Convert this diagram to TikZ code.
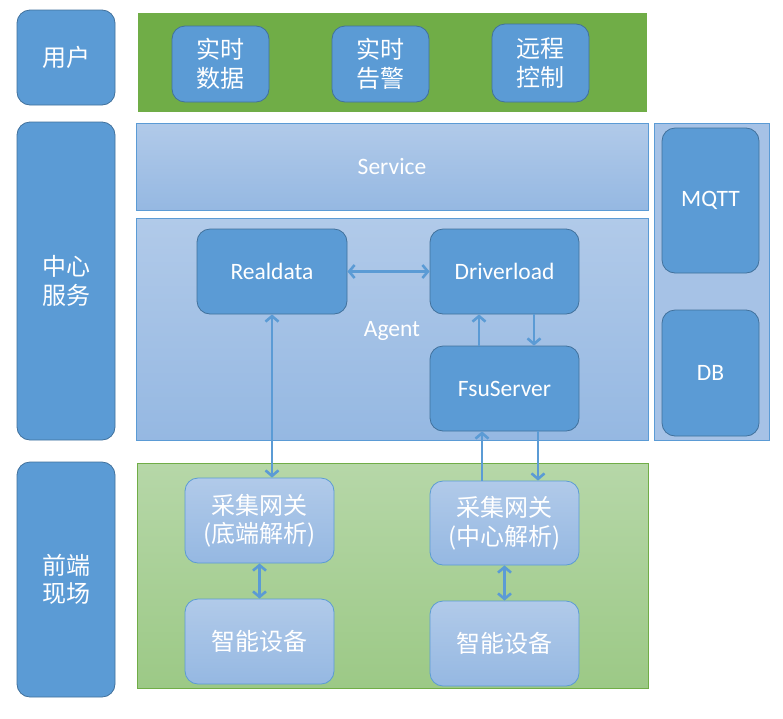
\documentclass[tikz,border=0pt]{standalone}
\usepackage{fontspec}
\setmainfont{Carlito}
\newfontfamily\cjk{Noto Sans CJK SC}
\usetikzlibrary{arrows.meta}
\definecolor{obl}{HTML}{5B9BD5}
\definecolor{obd}{HTML}{41719C}
\definecolor{ogr}{HTML}{70AD47}
\definecolor{pnlt}{HTML}{B1CAE9}
\definecolor{pnlb}{HTML}{95B8E2}
\definecolor{grt}{HTML}{B6D7A8}
\definecolor{grb}{HTML}{9CC986}
\definecolor{sidep}{HTML}{A6C2E6}
\tikzset{
  solidbox/.style={draw=obd, line width=0.8pt, fill=obl, rounded corners=13pt, text=white, align=center, inner sep=0pt},
  panel/.style={draw=obl, line width=0.8pt, top color=pnlt, bottom color=pnlb, text=white, align=center, inner sep=0pt},
  softbox/.style={draw=obl, line width=0.8pt, top color=pnlt, bottom color=pnlb, rounded corners=13pt, text=white, align=center, inner sep=0pt},
  cn/.style={font=\cjk\fontsize{24}{28.5}\selectfont},
  en/.style={font=\fontsize{23.5}{28}\selectfont},
  conn/.style={draw=obl, line width=2.6pt, arrows={Straight Barb[length=5.5pt,width=13pt]-Straight Barb[length=5.5pt,width=13pt]}},
  conn1/.style={draw=obl, line width=2.6pt, arrows={-Straight Barb[length=5.5pt,width=13pt]}},
}
\begin{document}
\begin{tikzpicture}[x=1pt,y=-1pt]
\useasboundingbox[fill=white] (0,0) rectangle (783,718);
% left labels
\node[solidbox,cn,minimum width=98pt,minimum height=95pt] (user) at (66,57.5) {用户};
\node[solidbox,cn,minimum width=98pt,minimum height=318pt] (center) at (66,281) {中心\\服务};
\node[solidbox,cn,minimum width=98pt,minimum height=235pt] (front) at (66,579.5) {前端\\现场};
% top band
\node[fill=ogr,draw=ogr,minimum width=508pt,minimum height=98pt,inner sep=0pt] (userband) at (392,62) {};
\node[solidbox,cn,minimum width=97pt,minimum height=76pt] (rtdata) at (220.5,64) {实时\\数据};
\node[solidbox,cn,minimum width=97pt,minimum height=76pt] (rtalarm) at (380.5,64) {实时\\告警};
\node[solidbox,cn,minimum width=97pt,minimum height=78pt] (remote) at (540.5,63) {远程\\控制};
% service / agent
\node[panel,en,minimum width=512pt,minimum height=87pt] (service) at (392,166.5) {Service};
\node[panel,minimum width=512pt,minimum height=222pt] (agent) at (392,329) {};
\node[en,text=white,inner sep=0pt] (agentlbl) at (392,331) {Agent};
% right panel
\node[draw=obl,line width=0.8pt,fill=sidep,minimum width=115pt,minimum height=317pt,inner sep=0pt] (side) at (711.5,281.5) {};
\node[solidbox,en,minimum width=97pt,minimum height=145pt] (mqtt) at (710.5,200.5) {MQTT};
\node[solidbox,en,minimum width=97pt,minimum height=126pt] (db) at (710.5,373) {DB};
% agent modules
\node[solidbox,en,minimum width=150pt,minimum height=85pt] (realdata) at (272,271.5) {Realdata};
\node[solidbox,en,minimum width=149pt,minimum height=85pt] (driver) at (504.5,271.5) {Driverload};
\node[solidbox,en,minimum width=149pt,minimum height=85pt] (fsu) at (504.5,388.5) {FsuServer};
% bottom band
\node[draw=ogr,line width=0.8pt,top color=grt,bottom color=grb,minimum width=511pt,minimum height=225pt,inner sep=0pt] (field) at (392.5,575.5) {};
\node[softbox,cn,minimum width=149pt,minimum height=85pt] (gw1) at (259.5,520.5) {采集网关\\(底端解析)};
\node[softbox,cn,minimum width=149pt,minimum height=84pt] (gw2) at (504.5,523) {采集网关\\(中心解析)};
\node[softbox,cn,minimum width=149pt,minimum height=85pt] (dev1) at (259.5,641.5) {智能设备};
\node[softbox,cn,minimum width=149pt,minimum height=85pt] (dev2) at (504.5,643.5) {智能设备};
% connectors
\draw[conn] (realdata.east) -- (driver.west);
\draw[conn1] ([xshift=-25.5pt]fsu.north) -- ([xshift=-25.5pt]driver.south);
\draw[conn1] ([xshift=29.5pt]driver.south) -- ([xshift=29.5pt]fsu.north);
\draw[conn] (realdata.south) -- (realdata.south |- gw1.north);
\draw[conn1] ([xshift=-22.5pt]gw2.north) -- ([xshift=-22.5pt]fsu.south);
\draw[conn1] ([xshift=33.5pt]fsu.south) -- ([xshift=33.5pt]gw2.north);
\draw[conn] (gw1.south) -- (dev1.north);
\draw[conn] (gw2.south) -- (dev2.north);
\end{tikzpicture}
\end{document}
